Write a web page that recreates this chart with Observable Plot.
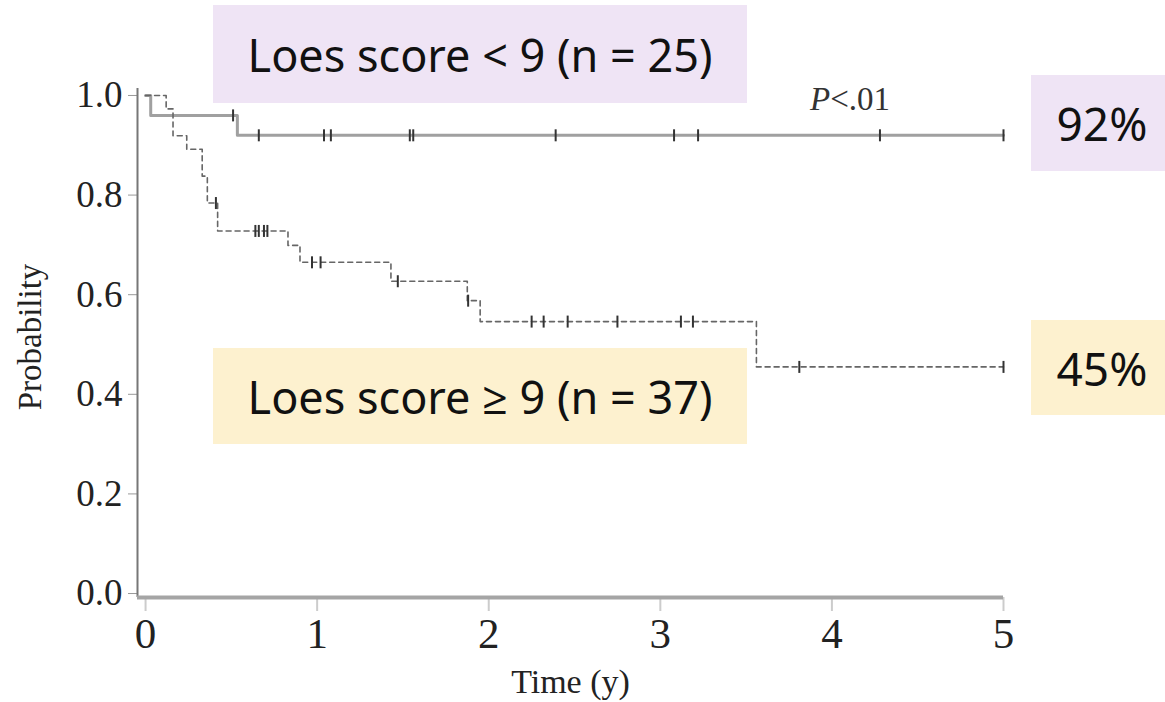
<!DOCTYPE html>
<html>
<head>
<meta charset="utf-8">
<script src="https://cdn.jsdelivr.net/npm/d3@7"></script>
<script src="https://cdn.jsdelivr.net/npm/@observablehq/plot@0.6"></script>
<style>
  html, body { margin: 0; padding: 0; background: #fff; }
  #wrap { position: relative; width: 1165px; height: 702px; overflow: hidden; }
  #chart { position: absolute; left: 0; top: 0; }
  .box { position: absolute; display: flex; align-items: center; justify-content: center;
         font-family: "Noto Sans", "Open Sans", sans-serif; color: #111; box-sizing: border-box; }
  .lav { background: #efe4f5; }
  .yel { background: #fdf1cf; }
  .pval { position: absolute; font-family: "Liberation Serif", serif; font-size: 33px; color: #333; line-height: 1; }
</style>
</head>
<body>
<div id="wrap">
  <div id="chart"></div>
  <div class="box lav" style="left:213px;top:5px;width:534px;height:98px;font-size:45px;">Loes score &lt; 9 (n = 25)</div>
  <div class="box yel" style="left:213px;top:348px;width:534px;height:96px;font-size:45px;">Loes score ≥ 9 (n = 37)</div>
  <div class="box lav" style="left:1031px;top:75px;width:134px;height:96px;font-size:46px;padding-left:8px;">92%</div>
  <div class="box yel" style="left:1031px;top:320px;width:134px;height:95px;font-size:46px;padding-left:8px;">45%</div>
  <div class="pval" style="left:810px;top:83px;"><i>P</i>&lt;.01</div>
</div>
<script>
// Loes score < 9 (n = 25): step times (years) and survival probability
const lowTimes = [0, 0.03, 0.535, 5];
const lowSurv  = [1, 0.96, 0.92, 0.92];
const lowCensor = [0.51, 0.66, 1.04, 1.08, 1.54, 1.56, 2.39, 3.08, 3.22, 4.28, 5.0];

// Loes score >= 9 (n = 37)
const highTimes = [0, 0.12, 0.16, 0.24, 0.33, 0.36, 0.42, 0.83, 0.90, 1.43, 1.875, 1.95, 3.56, 5];
const highSurv  = [1, 0.973, 0.919, 0.892, 0.838, 0.784, 0.728, 0.699, 0.665, 0.627, 0.588, 0.546, 0.455, 0.455];
const highCensor = [0.41, 0.64, 0.66, 0.69, 0.71, 0.97, 1.02, 1.47, 1.88, 2.25, 2.32, 2.46, 2.75, 3.12, 3.19, 3.81, 5.0];

const xTicks = [0, 1, 2, 3, 4, 5];
const yTicks = [0, 0.2, 0.4, 0.6, 0.8, 1.0];
const xLabel = "Time (y)";
const yLabel = "Probability";

const xDomain = [-0.047, 5];
const yDomain = [-0.008, 1.014];

function steps(times, surv) { return times.map((t, i) => ({t, s: surv[i]})); }
function survAt(times, surv, t) {
  let v = surv[0];
  for (let i = 0; i < times.length; i++) if (times[i] <= t) v = surv[i];
  return v;
}
const low = steps(lowTimes, lowSurv);
const high = steps(highTimes, highSurv);
const lowC = lowCensor.map(t => ({t, s: survAt(lowTimes, lowSurv, t)}));
const highC = highCensor.map(t => ({t, s: survAt(highTimes, highSurv, t)}));

const censorSymbol = {
  draw(ctx) { ctx.moveTo(0, -6); ctx.lineTo(0, 6); }
};

const plot = Plot.plot({
  width: 1165,
  height: 702,
  marginLeft: 137,
  marginRight: 162,
  marginTop: 88,
  marginBottom: 105,
  style: { fontFamily: "Liberation Serif, serif", background: "transparent", color: "#222" },
  x: { domain: xDomain },
  y: { domain: yDomain },
  marks: [
    Plot.axisX({ticks: xTicks, tickFormat: d3.format("d"), fontSize: 43, tickSize: 14, tickPadding: 6, stroke: "#ccc", strokeWidth: 2, label: null}),
    Plot.axisY({ticks: yTicks, tickFormat: d3.format(".1f"), fontSize: 37, tickSize: 9, tickPadding: 6, stroke: "#999", label: null}),
    Plot.ruleX([xDomain[0]], {stroke: "#777", strokeWidth: 2}),
    Plot.ruleY([yDomain[0]], {stroke: "#a5a5a5", strokeWidth: 4}),
    Plot.line(low, {x: "t", y: "s", curve: "step-after", stroke: "#a0a0a0", strokeWidth: 3}),
    Plot.line(high, {x: "t", y: "s", curve: "step-after", stroke: "#666", strokeWidth: 1.6, strokeDasharray: "5,4"}),
    Plot.dot(lowC, {x: "t", y: "s", symbol: censorSymbol, fill: "none", stroke: "#333", strokeWidth: 2}),
    Plot.dot(highC, {x: "t", y: "s", symbol: censorSymbol, fill: "none", stroke: "#333", strokeWidth: 2}),
    Plot.text([yLabel], {frameAnchor: "left", textAnchor: "middle", rotate: -90, dx: -107, dy: -6, fontSize: 33, fill: "#222"}),
    Plot.text([xLabel], {frameAnchor: "bottom", dy: 95, fontSize: 34, fill: "#222"})
  ]
});
document.getElementById("chart").appendChild(plot);
</script>
</body>
</html>
